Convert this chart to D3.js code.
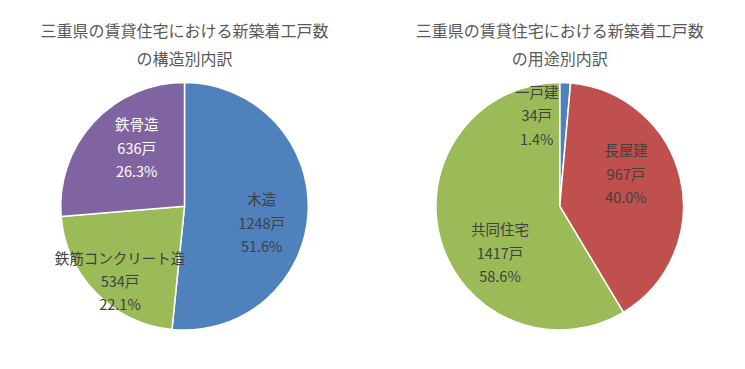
<!DOCTYPE html>
<html>
<head>
<meta charset="utf-8">
<script src="https://cdn.jsdelivr.net/npm/d3@7"></script>
<style>
  body { margin: 0; background: #fff; }
  svg { display: block; font-family: "Noto Sans CJK JP", "Noto Sans", sans-serif; }
</style>
</head>
<body>
<div id="chart"></div>
<script>
// data
const titleLine1 = `三重県の賃貸住宅における新築着工戸数`;

const structureNames = [`木造`, `鉄筋コンクリート造`, `鉄骨造`];
const structureValues = [1248, 534, 636];
const structureColors = [`#4F81BD`, `#9BBB59`, `#8064A2`];

const usageNames = [`一戸建`, `長屋建`, `共同住宅`];
const usageValues = [34, 967, 1417];
const usageColors = [`#4F81BD`, `#C0504D`, `#9BBB59`];

// label layout (Excel "best fit" nudges from the centroid)
const structureNudge = [[-2.7, 11.3], [-7.4, 17.7], [11, -5.4]];
const structureTextColor = [`#404040`, `#404040`, `#ffffff`];
const usageNudge = [[-26.5, -12], [-11.7, -15.6], [17.4, 24.1]];
const usageTextColor = [`#404040`, `#404040`, `#404040`];

const W = 745, H = 369;
const R = 123.8;
const LABEL_R = 80;
const LINE = 23.4;

const svg = d3.select(`#chart`).append(`svg`)
  .attr(`width`, W)
  .attr(`height`, H);

function drawPie(cx, cy, subtitle, names, values, colors, nudge, textColor){
  const g = svg.append(`g`);

  // title
  const title = g.append(`text`)
    .attr(`text-anchor`, `middle`)
    .attr(`fill`, `#595959`)
    .style(`font-size`, `16px`);
  title.append(`tspan`).attr(`x`, cx).attr(`y`, 37).text(titleLine1);
  title.append(`tspan`).attr(`x`, cx).attr(`y`, 65).text(subtitle);

  const total = d3.sum(values);
  const pie = d3.pie().sort(null).value(d => d.value);
  const arcs = pie(names.map((n, i) => ({name: n, value: values[i], i: i})));

  const arc = d3.arc().innerRadius(0).outerRadius(R);
  const labelArc = d3.arc().innerRadius(LABEL_R).outerRadius(LABEL_R);

  const pieG = g.append(`g`).attr(`transform`, `translate(${cx},${cy})`);

  pieG.selectAll(`path`)
    .data(arcs)
    .join(`path`)
    .attr(`d`, arc)
    .attr(`fill`, d => colors[d.data.i])
    .attr(`stroke`, `#ffffff`)
    .attr(`stroke-width`, 1.5)
    .attr(`stroke-linejoin`, `round`);

  const fmt = d3.format(`.1%`);
  const labels = pieG.selectAll(`text.label`)
    .data(arcs)
    .join(`text`)
    .attr(`class`, `label`)
    .attr(`text-anchor`, `middle`)
    .attr(`dominant-baseline`, `central`)
    .attr(`fill`, d => textColor[d.data.i])
    .style(`font-size`, `14.5px`);

  labels.each(function(d){
    const c = labelArc.centroid(d);
    const x = c[0] + nudge[d.data.i][0];
    const y = c[1] + nudge[d.data.i][1];
    const t = d3.select(this);
    const lines = [d.data.name, `${d.data.value}戸`, fmt(d.data.value / total)];
    lines.forEach((s, k) => {
      t.append(`tspan`)
        .attr(`x`, x)
        .attr(`y`, y + (k - 1) * LINE)
        .text(s);
    });
  });
}

drawPie(184.5, 206.3, `の構造別内訳`, structureNames, structureValues, structureColors, structureNudge, structureTextColor);
drawPie(559.7, 206.2, `の用途別内訳`, usageNames, usageValues, usageColors, usageNudge, usageTextColor);
</script>
</body>
</html>
